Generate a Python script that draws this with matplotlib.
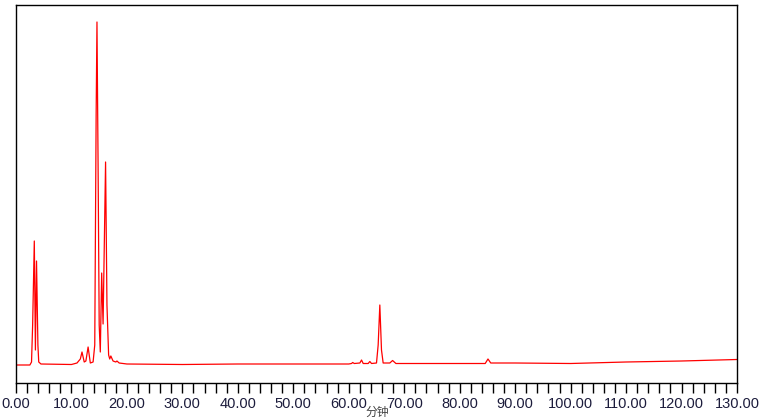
import matplotlib
matplotlib.use("Agg")
import matplotlib.pyplot as plt
from matplotlib.ticker import MultipleLocator, FormatStrFormatter

# retention time (min) and detector signal
times = [0.0, 2.5, 2.8, 3.0, 3.3, 3.5, 3.7, 3.95, 4.1, 4.5,
         10.0, 11.0, 11.6, 11.9, 12.3, 12.6, 13.0, 13.4, 13.9,
         14.2, 14.45, 14.6, 14.8, 15.0, 15.2, 15.45, 15.7, 16.15, 16.4,
         16.7, 16.9, 17.1, 17.5, 18.0, 18.2, 18.6, 20.0,
         30.0, 40.0, 50.0, 60.0, 60.5, 60.7, 61.0, 62.0, 62.3, 62.6,
         63.5, 63.8, 64.1, 65.0, 65.3, 65.6, 65.9, 66.2, 67.4, 67.9, 68.5,
         75.0, 80.0, 84.6, 85.1, 85.6, 90.0, 100.0, 110.0, 120.0, 130.0]
signal = [0.0, 0.0, 3, 40, 124, 15, 104, 20, 3, 1,
          0.5, 2, 6, 13, 3, 4, 18, 2, 3,
          20, 250, 343, 200, 40, 13, 92, 41, 203, 60,
          10, 6, 9, 4, 3, 4, 2, 1,
          0.5, 1.0, 1.0, 1.0, 1.5, 2.5, 1.5, 2, 5, 1.5,
          1.5, 3.5, 1.5, 2, 20, 60, 15, 2, 2, 4.5, 1.5,
          1.5, 1.5, 1.5, 6, 2, 2, 1.5, 3, 4, 5.5]

fig = plt.figure(figsize=(7.65, 4.2), dpi=100)
ax = fig.add_axes([16 / 765, 37 / 420, 721 / 765, 378 / 420])

ax.plot(times, signal, color="red", linewidth=0.9)

ax.set_xlim(0, 130)
ax.set_ylim(-18, 360)
ax.xaxis.set_major_locator(MultipleLocator(10))
ax.xaxis.set_minor_locator(MultipleLocator(2))
ax.xaxis.set_major_formatter(FormatStrFormatter("%.2f"))
ax.tick_params(axis="x", which="both", direction="out", length=7, width=1,
               pad=3, labelsize=10.5, labelcolor="#1c1c3c")
ax.set_yticks([])
for s in ax.spines.values():
    s.set_linewidth(1)

for lab in ax.get_xticklabels():
    lab.set_family(["Liberation Sans", "DejaVu Sans"])

# axis title sits right at the bottom edge, as in the instrument export
fig.text(377 / 765, 1 / 420, "分钟", family=["Noto Sans CJK SC", "DejaVu Sans"],
         fontsize=8.5, color="#404040", ha="center", va="bottom")

fig.savefig("out.png", dpi=100)
